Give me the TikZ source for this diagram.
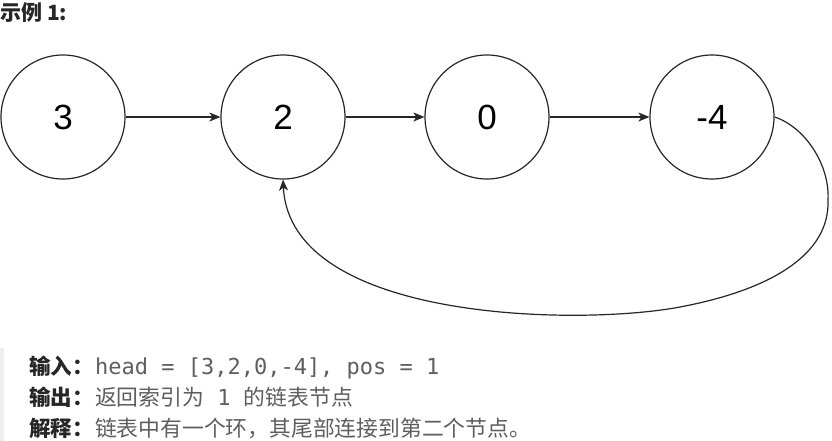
\documentclass[tikz,border=0pt]{standalone}
\usepackage{fontspec}
\setmainfont{Liberation Sans}
\newfontfamily\cjk{Noto Sans CJK SC}
\newfontfamily\mono{DejaVu Sans Mono}
\usetikzlibrary{arrows.meta}
\definecolor{txtgray}{HTML}{5E5E5E}
\definecolor{lblack}{HTML}{262626}
\definecolor{barg}{HTML}{EEEEEE}
\newcommand{\monotxt}[1]{{\mono\fontsize{22pt}{22pt}\selectfont #1}}
\begin{document}
\begin{tikzpicture}[x=1pt,y=-1pt,
  listnode/.style={circle,draw=black!85,line width=1.2pt,minimum size=124pt,inner sep=0pt,
    font=\fontsize{35pt}{35pt}\selectfont},
  link/.style={line width=1.2pt,draw=black!85,-{Stealth[length=11pt,width=9pt,inset=3pt]}},
  lbl/.style={anchor=base west,inner sep=0pt,font=\cjk\bfseries\fontsize{21.5pt}{21.5pt}\selectfont,text=lblack},
  body/.style={anchor=base west,inner sep=0pt,font=\cjk\fontsize{21.8pt}{21.8pt}\selectfont,text=txtgray}]
\useasboundingbox (0,0) rectangle (832,441);
\fill[barg] (0,348) rectangle (4,441);
\node[anchor=base west,inner sep=0pt,font=\cjk\bfseries\fontsize{21pt}{21pt}\selectfont,text=lblack] (title) at (0,21) {示例\hspace{5pt}{\bfseries 1:}};
\node[listnode] (n3) at (63,117) {3};
\node[listnode] (n2) at (283,117) {2};
\node[listnode] (n0) at (487,117) {0};
\node[listnode] (n4) at (712,117) {-4};
\draw[link] (n3) -- (n2);
\draw[link] (n2) -- (n0);
\draw[link] (n0) -- (n4);
\draw[link] (n4.east) .. controls (805,127) and (830,165) .. (828,200)
  .. controls (830,255) and (770,290) .. (680,307)
  .. controls (580,326) and (290,322) .. (n2.south);
\node[lbl] (l1) at (29,374) {输入：};
\node[body] (b1) at ([xshift=1pt]l1.base east) {\monotxt{head = [3,2,0,-4], pos = 1}};
\node[lbl] (l2) at (29,405) {输出：};
\node[body] (b2) at ([xshift=1pt]l2.base east) {返回索引为\monotxt{ 1 }的链表节点};
\node[lbl] (l3) at (29,436) {解释：};
\node[body] (b3) at ([xshift=1pt]l3.base east) {链表中有一个环，其尾部连接到第二个节点。};
\end{tikzpicture}
\end{document}
